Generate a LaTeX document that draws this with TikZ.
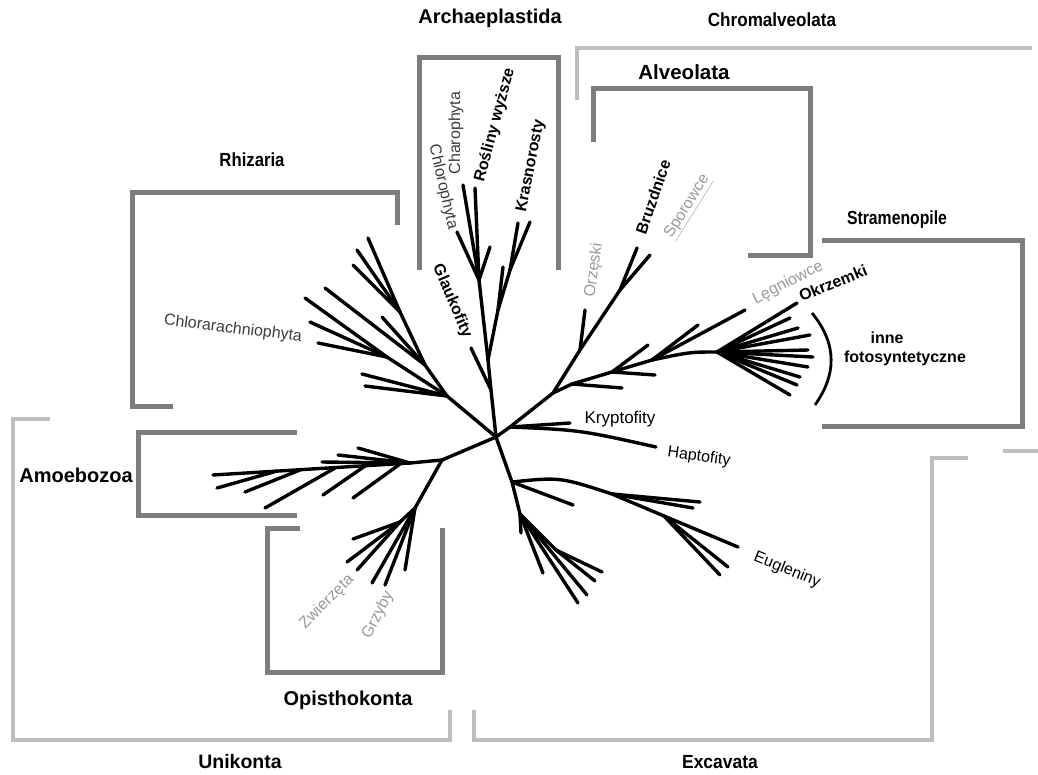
\documentclass[tikz,border=0pt]{standalone}
\usepackage{fontspec}
\setmainfont{Liberation Sans}
\definecolor{boxgrey}{HTML}{7D7D7D}
\definecolor{lightgrey}{HTML}{BEBEBE}
\definecolor{txtgrey}{HTML}{9A9A9A}
\definecolor{darkgrey}{HTML}{3C3C3C}
% twigs from one fork: \twigs{fork}{x/y,...}
\newcommand{\twigs}[2]{%
  \foreach \x/\y [count=\i] in {#2}
    {\coordinate (#1t\i) at (\x,\y); \draw[br] (#1) -- (#1t\i);}}
\begin{document}
\begin{tikzpicture}[
    x=1pt, y=-1pt,
    br/.style={line width=3.4pt,line cap=round,line join=round},
    box/.style={line width=5pt,draw=boxgrey},
    lbox/.style={line width=4.5pt,draw=lightgrey},
    grp/.style={font=\fontsize{#1}{#1}\selectfont\bfseries,inner sep=0pt},
    grp/.default=19,
    lbl/.style={font=\fontsize{16}{18}\selectfont,inner sep=0pt},
    lblb/.style={font=\fontsize{16}{18}\selectfont\bfseries,inner sep=0pt}
]
\useasboundingbox (0,0) rectangle (1038,774);

% group brackets
\draw[box] (419,270) -- (419,57) -- (558,57) -- (558,270);
\draw[lbox] (577,100) -- (577,48) -- (1032,48);
\draw[box] (593,142) -- (593,88) -- (810,88) -- (810,255) -- (748,255);
\draw[box] (822,240) -- (1022,240) -- (1022,426) -- (822,426);
\draw[box] (397,225) -- (397,192) -- (132,192) -- (132,406) -- (173,406);
\draw[lbox] (50,419) -- (13,419) -- (13,740) -- (450,740) -- (450,710);
\draw[box] (297,432) -- (138,432) -- (138,515) -- (297,515);
\draw[box] (300,528) -- (267,528) -- (267,672) -- (442,672) -- (442,528);
\draw[lbox] (474,710) -- (474,740) -- (932,740) -- (932,458) -- (968,458);
\draw[lbox] (1003,451) -- (1038,451);

% tree
\coordinate (r) at (496,437);
% Archaeplastida
\coordinate (a0) at (491,390);
\coordinate (a1) at (488,360);
\coordinate (a2) at (479,280);
\coordinate (a4) at (498,310);
\coordinate (a5) at (510,270);
\draw[br] (r) -- (a0) -- (a1) -- (a2);
\draw[br] (a1) -- (a4) -- (a5);
\twigs{a0}{471/348}
\twigs{a2}{457/232,463/185,475/188,490/247}
\twigs{a4}{503/267}
\twigs{a5}{518/223,530/222}
% Rhizaria
\coordinate (b1) at (447,396);
\coordinate (b2) at (425,365);
\coordinate (b3) at (400,312);
\coordinate (b4) at (387,357);
\draw[br] (r) -- (b1) -- (b2) -- (b3);
\draw[br] (b1) -- (b4);
\twigs{b1}{362/374,365/386}
\twigs{b2}{382/317,325/288}
\twigs{b3}{368/238,357/250,353/265}
\twigs{b4}{305/298,310/322,318/343}
% Amoebozoa
\coordinate (c0) at (442,460);
\coordinate (c1) at (410,463);
\draw[br] (r) -- (c0) -- (c1);
\twigs{c1}{213/475,358/448,338/455,322/462}
\foreach \x/\y/\u/\v [count=\i] in
    {400/464/353/498,365/466/323/495,335/468/265/508,300/470/245/492,277/471/217/488}
  {\coordinate (c\i) at (\x,\y); \coordinate (c\i e) at (\u,\v);
   \draw[br] (c\i) -- (c\i e);}
% Opisthokonta
\coordinate (d1) at (415,508);
\coordinate (d2) at (400,522);
\draw[br] (c0) -- (d1) -- (d2);
\twigs{d1}{372/583,385/585,405/570}
\twigs{d2}{353/539,347/562,357/570}
% Excavata
\coordinate (e1) at (512,482);
\coordinate (e2) at (520,514);
\coordinate (e3) at (556,550);
\coordinate (e4) at (612,494);
\coordinate (e5) at (664,516);
\draw[br] (r) -- (e1) -- (e2) -- (e3);
\draw[br] (e1) .. controls (560,477) .. (e4) -- (e5);
\twigs{e1}{573/505}
\twigs{e2}{521/533,543/573,578/603,587/595}
\twigs{e3}{595/581,602/572}
\twigs{e4}{700/502,693/508}
\twigs{e5}{738/547,728/567,720/575}
% Chromalveolata
\coordinate (f1) at (510,427);
\coordinate (g1) at (553,393);
\coordinate (h1) at (580,350);
\coordinate (h2) at (620,290);
\coordinate (s1) at (572,384);
\coordinate (s2) at (612,372);
\coordinate (s3) at (652,360);
\coordinate (s4) at (717,352);
\draw[br] (r) -- (f1) -- (g1) -- (h1) -- (h2);
\draw[br] (g1) -- (s1) -- (s2) -- (s3);
\draw[br] (s3) .. controls (690,352) .. (s4);
\twigs{f1}{570/423}
\coordinate (hapt) at (656,447);
\draw[br] (f1) .. controls (580,430) .. (hapt);
\twigs{h1}{585/310}
\twigs{h2}{637/248,650/255}
\twigs{s1}{622/388}
\twigs{s2}{648/345,655/375}
\twigs{s3}{698/325,745/310}
\twigs{s4}{797/303,790/318,798/328,810/335,808/350,813/357,808/367,800/377,797/385,790/395}
\draw[line width=2.8pt] (812,313) .. controls (838,345) and (836,375) .. (815,405);

% group labels
\node[grp=20] (archae) at (490,18) {Archaeplastida};
\node[grp,xscale=0.9] (chromal) at (772,20) {Chromalveolata};
\node[grp=20.5] (alveo) at (684,72) {Alveolata};
\node[grp,xscale=0.88] (rhiz) at (252,160) {Rhizaria};
\node[grp,xscale=0.83] (stram) at (897,220) {Stramenopile};
\node[grp=20] (amoe) at (76,475) {Amoebozoa};
\node[grp=20] (opist) at (348,700) {Opisthokonta};
\node[grp=19.5] (unik) at (240,762) {Unikonta};
\node[grp,xscale=0.92] (excav) at (720,762) {Excavata};

% leaf labels
\node[lbl,text=darkgrey,rotate=-77] (chloro) at (443,187) {Chlorophyta};
\node[lbl,text=darkgrey,rotate=90] (charo) at (456,133) {Charophyta};
\node[lblb,rotate=75] (rosl) at (495,125) {Rośliny wyższe};
\node[lblb,rotate=79] (krasn) at (531,166) {Krasnorosty};
\node[lblb,rotate=-67] (glauk) at (452,301) {Glaukofity};
\node[lbl,text=txtgrey,rotate=82] (orzes) at (594,270) {Orzęski};
\node[lblb,rotate=71] (bruzd) at (653,197) {Bruzdnice};
\node[lbl,text=txtgrey,rotate=58] (sporo) at (688,207) {\underline{Sporowce}};
\node[lbl,text=txtgrey,rotate=27] (legn) at (788,283) {Lęgniowce};
\node[lblb,rotate=22] (okrz) at (833,283) {Okrzemki};
\node[lblb] (inne) at (887,338) {inne};
\node[lblb] (foto) at (905,358) {fotosyntetyczne};
\node[lbl,text=darkgrey,rotate=-7] (chlora) at (233,329) {Chlorarachniophyta};
\node[lbl,font=\fontsize{17}{18}\selectfont] (krypto) at (620,419) {Kryptofity};
\node[lbl,rotate=-8] (hapto) at (699,457) {Haptofity};
\node[lbl,rotate=-22] (eugl) at (787,570) {Eugleniny};
\node[lbl,text=txtgrey,rotate=45] (zwierz) at (327,602) {Zwierzęta};
\node[lbl,text=txtgrey,rotate=63] (grzyb) at (378,615) {Grzyby};
\end{tikzpicture}
\end{document}
